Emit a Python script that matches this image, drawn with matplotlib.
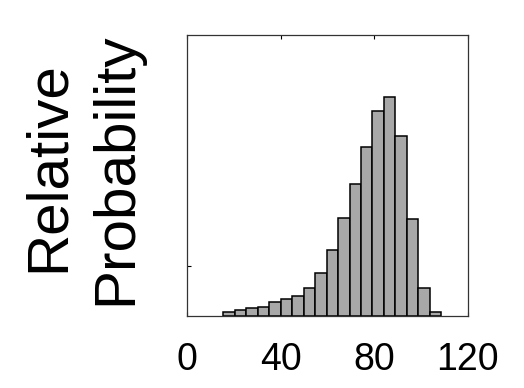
import matplotlib
matplotlib.use("Agg")
import matplotlib.pyplot as plt
import numpy as np

# histogram bins (x units) and relative probabilities
bin_edges = [15.5, 20.4, 25.3, 30.2, 35.1, 40.0, 44.9, 49.8, 54.7, 59.6,
             64.5, 69.4, 74.3, 79.2, 84.1, 89.0, 93.9, 98.8, 103.7, 108.6]
rel_prob = [0.0043, 0.0060, 0.0077, 0.0093, 0.0137, 0.0169, 0.0202, 0.0282,
            0.0431, 0.0658, 0.0974, 0.1315, 0.1687, 0.2043, 0.2185, 0.1794,
            0.0964, 0.0276, 0.0043]
x_ticks = [0, 40, 80, 120]
y_ticks = [0.05]

plt.rcParams["font.family"] = ["Liberation Sans", "DejaVu Sans"]

fig = plt.figure(figsize=(5.24, 3.88), dpi=100)
ax = fig.add_axes([0.357, 0.1856, 0.536, 0.724])

edges = np.array(bin_edges)
ax.bar(edges[:-1], rel_prob, width=np.diff(edges), align="edge",
       color="#a8a8a8", edgecolor="black", linewidth=1.1, zorder=2)

ax.set_xlim(0, 120)
ax.set_ylim(0, 0.28)
ax.set_xticks(x_ticks)
ax.set_yticks(y_ticks)
ax.set_yticklabels([])
ax.tick_params(axis="x", direction="in", top=True, length=3, width=0.8,
               labelsize=27, pad=19)
ax.tick_params(axis="y", direction="in", length=3, width=0.8)
for s in ax.spines.values():
    s.set_linewidth(0.9)
    s.set_color("#333333")

# two-line y label
fig.text(64 / 524, 1 - 166.5 / 388, "Relative", rotation=90, fontsize=42,
         ha="center", va="baseline", rotation_mode="anchor")
fig.text(131 / 524, 1 - 168.5 / 388, "Probability", rotation=90, fontsize=42,
         ha="center", va="baseline", rotation_mode="anchor")

fig.savefig("out.png", dpi=100)
